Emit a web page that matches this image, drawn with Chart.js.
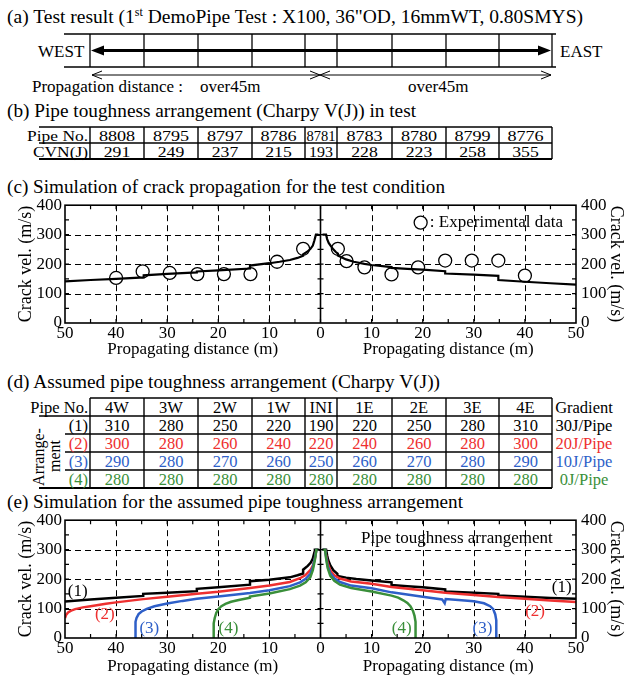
<!DOCTYPE html>
<html>
<head>
<meta charset="utf-8">
<script src="https://cdn.jsdelivr.net/npm/chart.js@4.4.1/dist/chart.umd.min.js"></script>
<style>
html, body { margin: 0; padding: 0; background: #fff; }
#page { position: relative; width: 625px; height: 677px; overflow: hidden; }
#art { position: absolute; left: 0; top: 0; }
.cv { position: absolute; left: 0; }
</style>
</head>
<body>
<div id="page">
  <svg id="art" width="625" height="677"></svg>
  <canvas id="chartC" class="cv" width="625" height="175" style="top:190px"></canvas>
  <canvas id="chartE" class="cv" width="625" height="172" style="top:505px"></canvas>
</div>
<script>
// ---- data ----
// (b) pipes used in the test
const testPipes = ['8808', '8795', '8797', '8786', '8781', '8783', '8780', '8799', '8776'];
const testCvn = [291, 249, 237, 215, 193, 228, 223, 258, 355];

// (d) assumed arrangements
const assumedPipes = ['4W', '3W', '2W', '1W', 'INI', '1E', '2E', '3E', '4E'];
const arrangeNames = ['(1)', '(2)', '(3)', '(4)'];
const arrange1 = [310, 280, 250, 220, 190, 220, 250, 280, 310];
const arrange2 = [300, 280, 260, 240, 220, 240, 260, 280, 300];
const arrange3 = [290, 280, 270, 260, 250, 260, 270, 280, 290];
const arrange4 = [280, 280, 280, 280, 280, 280, 280, 280, 280];
const gradients = ['30J/Pipe', '20J/Pipe', '10J/Pipe', '0J/Pipe'];

// (c) simulation for the test condition (west = negative distance)
const simWestDist = [-50, -45, -40, -34.6, -34.6, -30, -24.2, -24.2, -20, -13.8, -13.8, -10, -8, -6, -4.5, -3.4, -3.4, -2.6, -2, -1.5, -1.2, -0.9, -0.4];
const simWestVel  = [141, 146, 150, 155, 162, 167, 172, 175, 179, 185, 195, 203, 208, 214, 221, 228, 233, 242, 251, 263, 280, 300, 300];
const simEastDist = [0.4, 1.1, 1.3, 1.6, 2, 2.5, 3, 3.4, 3.4, 4, 5, 6.5, 8.6, 10, 13.9, 13.9, 17, 20, 24.4, 24.4, 30, 34.8, 34.8, 40, 45, 50];
const simEastVel  = [300, 300, 285, 272, 262, 250, 241, 236, 229, 224, 216, 208, 201, 197, 190, 187, 184, 181, 176, 168, 164, 160, 146, 140, 135, 130];
const expDist = [-40, -34.8, -29.5, -24.1, -18.9, -13.7, -8.5, -3.4, 3.4, 5.1, 8.6, 13.9, 19.1, 24.4, 29.6, 34.8, 40];
const expVel  = [153, 175, 170, 166, 166, 166, 208, 252, 252, 210, 189, 165, 189, 212, 212, 212, 161];

// (e) simulation for the assumed arrangements
const a1WestDist = [-50, -45, -40, -34.7, -34.7, -30, -24.2, -24.2, -20, -13.8, -13.8, -10, -6, -4.5, -3.4, -3.4, -2.5, -1.9, -1.5, -1.2, -1.1, -0.4];
const a1WestVel  = [124, 131, 137, 143, 150, 154, 159, 167, 172, 181, 193, 198, 206, 213, 219, 232, 245, 256, 270, 290, 300, 300];
const a1EastDist = [0.4, 1.1, 1.3, 1.5, 1.9, 2.5, 3.3, 3.3, 5, 7, 10, 13.9, 13.9, 17, 20, 24.4, 24.4, 30, 34.8, 34.8, 40, 45, 50];
const a1EastVel  = [300, 300, 280, 265, 247, 230, 218, 211, 205, 200, 195, 189, 180, 176, 172, 165, 158, 154, 150, 144, 140, 136, 133];

const a2WestDist = [-50, -49.8, -49.4, -48.8, -48, -46.5, -45, -42, -40, -34.7, -30, -24.2, -20, -13.8, -10, -6, -4, -3, -2, -1.5, -1.1, -0.8, -0.4];
const a2WestVel  = [68, 78, 87, 93, 98, 104, 108, 116, 121, 132, 140, 150, 157, 170, 178, 190, 203, 213, 230, 246, 270, 300, 300];
const a2EastDist = [0.4, 0.9, 1.1, 1.4, 1.9, 2.7, 3.8, 6, 10, 13.9, 20, 24.4, 30, 34.8, 40, 45, 50];
const a2EastVel  = [300, 300, 280, 255, 230, 213, 202, 192, 184, 173, 162, 154, 146, 139, 133, 127, 122];

const a3WestDist = [-36.2, -36.2, -36, -35.6, -35, -34, -32.5, -30, -27, -24.2, -20, -13.8, -10, -6, -4, -2.9, -2, -1.5, -1.1, -0.8, -0.4];
const a3WestVel  = [0, 55, 68, 81, 90, 99, 108, 117, 126, 133, 141, 153, 162, 176, 189, 201, 218, 240, 272, 300, 300];
const a3EastDist = [0.4, 0.9, 1.1, 1.4, 1.9, 2.7, 3.8, 6, 10, 13.9, 20, 23.8, 24.3, 24.5, 27, 30, 32, 33.2, 33.8, 34.2, 34.4, 34.4];
const a3EastVel  = [300, 300, 275, 245, 221, 203, 190, 178, 169, 155, 140, 131, 118, 132, 129, 125, 118, 108, 98, 80, 60, 0];

const a4WestDist = [-20.9, -20.9, -20.7, -20.4, -20, -19.4, -18.6, -17.5, -16, -13.8, -13.8, -10, -6, -4, -2.9, -2, -1.5, -1.1, -0.8, -0.4];
const a4WestVel  = [0, 50, 68, 85, 98, 108, 116, 123, 129, 137, 141, 151, 166, 178, 189, 206, 230, 265, 300, 300];
const a4EastDist = [0.4, 0.9, 1.1, 1.4, 1.9, 2.7, 3.8, 6, 10, 13.9, 15.2, 16.2, 17, 17.6, 18.1, 18.4, 18.6, 18.6];
const a4EastVel  = [300, 300, 270, 238, 212, 194, 181, 170, 158, 144, 137, 128, 119, 108, 92, 75, 55, 0];

// ---- styling ----
const FONT = 'Liberation Serif, Times New Roman, serif';
const BLACK = '#000000', RED = '#ee3030', BLUE = '#2e5fc8', GREEN = '#3a8f3a';
const rowColors = [BLACK, RED, BLUE, GREEN];
const pipeEdges = [90, 144, 198, 252, 305, 337, 392, 446, 499, 552];

// ---- svg part: titles, pipe sketch, tables ----
const NS = 'http://www.w3.org/2000/svg';
const svg = document.getElementById('art');
function el(tag, attrs, parent) {
  const e = document.createElementNS(NS, tag);
  for (const k in attrs) e.setAttribute(k, attrs[k]);
  (parent || svg).appendChild(e);
  return e;
}
function line(x1, y1, x2, y2, w, c) {
  return el('line', { x1, y1, x2, y2, stroke: c || BLACK, 'stroke-width': w || 1 });
}
function text(str, x, y, size, o) {
  o = o || {};
  const t = el('text', { x, y, 'font-size': size, 'font-family': FONT, fill: o.color || BLACK, 'text-anchor': o.anchor || 'start' });
  t.textContent = str;
  if (o.width) {
    t.setAttribute('textLength', o.width);
    t.setAttribute('lengthAdjust', 'spacingAndGlyphs');
  } else if (o.stretch) {
    t.setAttribute('textLength', t.getComputedTextLength() * o.stretch);
    t.setAttribute('lengthAdjust', 'spacingAndGlyphs');
  } else if (o.maxW && t.getComputedTextLength() > o.maxW) {
    t.setAttribute('textLength', o.maxW);
    t.setAttribute('lengthAdjust', 'spacingAndGlyphs');
  }
  if (o.transform) t.setAttribute('transform', o.transform);
  return t;
}

// titles
const tA = el('text', { x: 7, y: 23, 'font-size': 19.5, 'font-family': FONT, textLength: 576, lengthAdjust: 'spacingAndGlyphs' });
el('tspan', {}, tA).textContent = '(a) Test result (1';
el('tspan', { 'font-size': 12, dy: -7 }, tA).textContent = 'st';
el('tspan', { dy: 7 }, tA).textContent = ' DemoPipe Test : X100, 36"OD, 16mmWT, 0.80SMYS)';
text('(b) Pipe toughness arrangement (Charpy V(J)) in test', 7, 117, 19.5, { width: 409 });
text('(c) Simulation of crack propagation for the test condition', 7, 193, 19.5, { width: 438 });
text('(d) Assumed pipe toughness arrangement (Charpy V(J))', 7, 388, 19.5, { width: 433 });
text('(e) Simulation for the assumed pipe toughness arrangement', 7, 508, 19.5, { width: 456 });

// (a) pipe sketch
const pTop = 34, pBot = 67, pMid = 50.5, spanY = 75;
line(64, pTop, 556, pTop, 1.4);
line(64, pBot, 556, pBot, 1.4);
pipeEdges.forEach(x => line(x, pTop, x, pBot, 1.3));
line(101, pMid, 541, pMid, 3);
el('polygon', { points: `91,${pMid} 104,${pMid - 5} 104,${pMid + 5}`, fill: BLACK });
el('polygon', { points: `551,${pMid} 538,${pMid - 5} 538,${pMid + 5}`, fill: BLACK });
text('WEST', 38, 57, 17);
text('EAST', 560, 57, 17);
line(92, spanY, 320, spanY, 1);
line(320, spanY, 551, spanY, 1);
[[102, 92], [310, 320], [330, 320], [541, 551]].forEach(([b, t]) =>
  el('polyline', { points: `${b},${spanY - 4} ${t},${spanY} ${b},${spanY + 4}`, fill: 'none', stroke: BLACK, 'stroke-width': 1 }));
text('Propagation distance :', 32, 92, 17);
text('over45m', 200, 92, 17);
text('over45m', 408, 92, 17);

// (b) table
const bRows = [127, 143, 159];
line(39, bRows[0], 552, bRows[0], 1.4);
line(39, bRows[1], 552, bRows[1], 1.4);
line(39, bRows[2], 552, bRows[2], 2.2);
pipeEdges.forEach(x => line(x, bRows[0], x, bRows[2], 1.4));
text('Pipe No.', 88, 141, 14.5, { anchor: 'end', stretch: 1.2 });
text('CVN(J)', 88, 157, 14.5, { anchor: 'end', stretch: 1.2 });
testPipes.forEach((p, i) => {
  const cx = (pipeEdges[i] + pipeEdges[i + 1]) / 2, w = pipeEdges[i + 1] - pipeEdges[i];
  text(p, cx, 141, 14.5, { anchor: 'middle', maxW: w - 2, stretch: w > 40 ? 1.25 : 0 });
  text(String(testCvn[i]), cx, 157, 14.5, { anchor: 'middle', stretch: w > 40 ? 1.22 : 1.1 });
});

// (d) table
const dRows = [398, 416, 434, 452, 470, 488];
line(90, dRows[0], 552, dRows[0], 1.4);
line(39, dRows[1], 552, dRows[1], 1.4);
line(65, dRows[2], 552, dRows[2], 1.4);
line(65, dRows[3], 552, dRows[3], 1.4);
line(65, dRows[4], 552, dRows[4], 1.4);
line(39, dRows[5], 552, dRows[5], 2.2);
pipeEdges.forEach(x => line(x, dRows[0], x, dRows[5], 1.4));
text('Pipe No.', 88, dRows[1] - 3, 16.5, { anchor: 'end' });
text('Gradient', 584, dRows[1] - 3, 16.5, { anchor: 'middle' });
assumedPipes.forEach((p, i) => {
  const cx = (pipeEdges[i] + pipeEdges[i + 1]) / 2, w = pipeEdges[i + 1] - pipeEdges[i];
  text(p, cx, dRows[1] - 3, 16.5, { anchor: 'middle', maxW: w - 3 });
});
[arrange1, arrange2, arrange3, arrange4].forEach((row, r) => {
  const y = dRows[r + 2] - 3, c = rowColors[r];
  text(arrangeNames[r], 88, y, 16.5, { anchor: 'end', color: c });
  row.forEach((v, i) => {
    const cx = (pipeEdges[i] + pipeEdges[i + 1]) / 2, w = pipeEdges[i + 1] - pipeEdges[i];
    text(String(v), cx, y, 16.5, { anchor: 'middle', color: c, maxW: w - 3 });
  });
  text(gradients[r], 584, y, 16.5, { anchor: 'middle', color: c });
});
text('Arrange-', 0, 0, 16, { anchor: 'middle', transform: 'translate(44,457) rotate(-90)' });
text('ment', 0, 0, 16, { anchor: 'middle', transform: 'translate(60,456) rotate(-90)' });

// ---- charts ----
Chart.defaults.font.family = '"Liberation Serif", "Times New Roman", serif';
Chart.defaults.color = BLACK;

function pts(xs, ys) { return xs.map((x, i) => ({ x, y: ys[i] })); }
function curve(xs, ys, color, w) {
  return { data: pts(xs, ys), showLine: true, borderColor: color, borderWidth: w, pointRadius: 0, fill: false, tension: 0 };
}

// gridlines, frame, inner ticks and free text
const frame = {
  id: 'frame',
  beforeDatasetsDraw(chart) {
    const { ctx, chartArea: a, scales: { x, y } } = chart;
    ctx.save();
    ctx.strokeStyle = BLACK;
    ctx.lineWidth = 1;
    ctx.setLineDash([6, 4]);
    ctx.beginPath();
    for (let d = -40; d <= 40; d += 10) {
      if (d === 0) continue;
      const px = Math.round(x.getPixelForValue(d)) + 0.5;
      ctx.moveTo(px, a.top); ctx.lineTo(px, a.bottom);
    }
    for (let v = 100; v < 400; v += 100) {
      const py = Math.round(y.getPixelForValue(v)) + 0.5;
      ctx.moveTo(a.left, py); ctx.lineTo(a.right, py);
    }
    ctx.stroke();
    ctx.restore();
  },
  afterDatasetsDraw(chart, args, opts) {
    const { ctx, chartArea: a, scales: { x, y } } = chart;
    ctx.save();
    ctx.strokeStyle = BLACK;
    ctx.lineWidth = 1.6;
    ctx.strokeRect(a.left, a.top, a.right - a.left, a.bottom - a.top);
    const cx = x.getPixelForValue(0);
    ctx.beginPath(); ctx.moveTo(cx, a.top); ctx.lineTo(cx, a.bottom); ctx.stroke();
    ctx.lineWidth = 1.2;
    ctx.beginPath();
    for (let d = -45; d <= 45; d += 5) {
      const px = x.getPixelForValue(d);
      ctx.moveTo(px, a.top); ctx.lineTo(px, a.top + 4);
      ctx.moveTo(px, a.bottom); ctx.lineTo(px, a.bottom - 4);
    }
    for (let v = 50; v < 400; v += 50) {
      const py = y.getPixelForValue(v);
      ctx.moveTo(a.left, py); ctx.lineTo(a.left + 4, py);
      ctx.moveTo(a.right, py); ctx.lineTo(a.right - 4, py);
      ctx.moveTo(cx - 3, py); ctx.lineTo(cx + 3, py);
    }
    ctx.stroke();
    // axis captions under each half
    ctx.fillStyle = BLACK;
    ctx.font = '17px "Liberation Serif", serif';
    ctx.textAlign = 'center';
    ctx.textBaseline = 'middle';
    ctx.fillText('Propagating distance (m)', x.getPixelForValue(-25), a.bottom + opts.capGap);
    ctx.fillText('Propagating distance (m)', x.getPixelForValue(25), a.bottom + opts.capGap);
    (opts.notes || []).forEach(n => {
      const px = x.getPixelForValue(n.x), py = y.getPixelForValue(n.y);
      if (n.circle) {
        ctx.beginPath(); ctx.arc(px, py, 6.5, 0, Math.PI * 2);
        ctx.fillStyle = '#fff'; ctx.fill();
        ctx.lineWidth = 1.3; ctx.stroke();
        return;
      }
      ctx.fillStyle = n.color || BLACK;
      ctx.textAlign = n.align || 'center';
      ctx.fillText(n.text, px, py);
    });
    ctx.restore();
  }
};

function makeChart(id, datasets, notes, axisH, capGap) {
  const yAxis = (pos, w, pad, titlePad) => ({
    position: pos, min: 0, max: 400,
    grid: { display: false, drawTicks: false }, border: { display: false },
    ticks: { stepSize: 100, padding: pad, color: BLACK, font: { size: 17 } },
    title: { display: true, text: 'Crack vel. (m/s)', color: BLACK, font: { size: 18, lineHeight: 1 }, padding: { top: titlePad, bottom: 0 } },
    afterFit: s => { s.width = w; }
  });
  return new Chart(document.getElementById(id), {
    type: 'scatter',
    data: { datasets },
    options: {
      responsive: false, animation: false, devicePixelRatio: 1,
      layout: { padding: { top: 14, left: 0, right: 0, bottom: 0 } },
      plugins: { legend: { display: false }, tooltip: { enabled: false }, frame: { notes, capGap } },
      scales: {
        x: {
          type: 'linear', min: -50, max: 50,
          grid: { display: false, drawTicks: false }, border: { display: false },
          ticks: { stepSize: 10, padding: 0, autoSkip: false, maxRotation: 0, color: BLACK, font: { size: 17 }, callback: v => Math.abs(v) },
          afterFit: s => { s.height = axisH; }
        },
        y: yAxis('left', 65, 3, 17),
        y2: yAxis('right', 49, 5, 0)
      }
    },
    plugins: [frame]
  });
}

makeChart('chartC', [
  curve(simWestDist, simWestVel, BLACK, 2.2),
  curve(simEastDist, simEastVel, BLACK, 2.2),
  { data: pts(expDist, expVel), showLine: false, pointRadius: 6.5, pointBackgroundColor: '#fff', pointBorderColor: BLACK, pointBorderWidth: 1.3 }
], [
  { circle: true, x: 19.6, y: 341 },
  { text: ': Experimental data', x: 21.4, y: 341, align: 'left' }
], 42, 27);

makeChart('chartE', [
  curve(a4WestDist, a4WestVel, GREEN, 2.5),
  curve(a4EastDist, a4EastVel, GREEN, 2.5),
  curve(a3WestDist, a3WestVel, BLUE, 2.5),
  curve(a3EastDist, a3EastVel, BLUE, 2.5),
  curve(a2WestDist, a2WestVel, RED, 2.5),
  curve(a2EastDist, a2EastVel, RED, 2.5),
  curve(a1WestDist, a1WestVel, BLACK, 2.5),
  curve(a1EastDist, a1EastVel, BLACK, 2.5)
], [
  { text: 'Pipe toughness arrangement', x: 26.7, y: 337 },
  { text: '(1)', x: -47.5, y: 158, color: BLACK },
  { text: '(2)', x: -42.2, y: 79, color: RED },
  { text: '(3)', x: -33.5, y: 32, color: BLUE },
  { text: '(4)', x: -18.0, y: 32, color: GREEN },
  { text: '(1)', x: 47.2, y: 171, color: BLACK },
  { text: '(2)', x: 42.0, y: 89, color: RED },
  { text: '(3)', x: 31.7, y: 32, color: BLUE },
  { text: '(4)', x: 15.9, y: 32, color: GREEN }
], 39, 29);
</script>
</body>
</html>
